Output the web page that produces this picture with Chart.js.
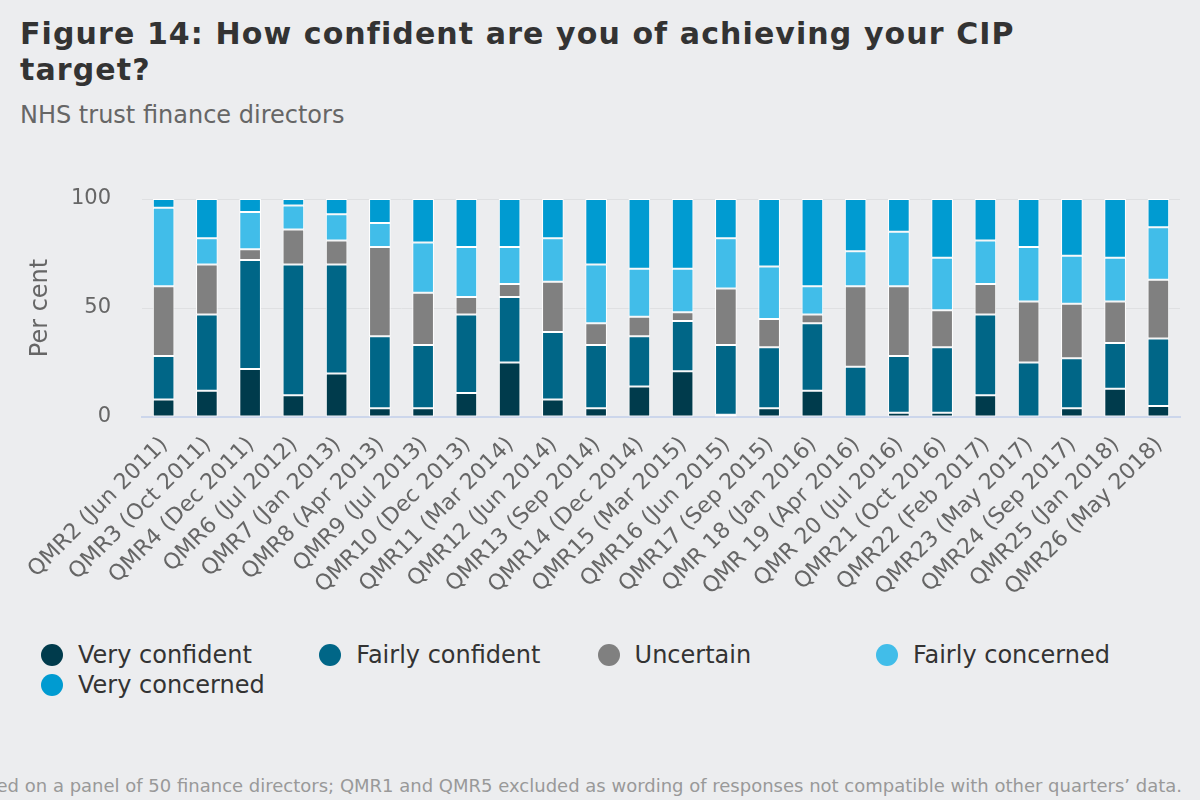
<!DOCTYPE html>
<html>
<head>
<meta charset="utf-8">
<script src="https://cdn.jsdelivr.net/npm/chart.js@4.4.1/dist/chart.umd.min.js"></script>
<style>
html,body{margin:0;padding:0;background:#ecedef;width:1200px;height:800px;overflow:hidden;font-family:"DejaVu Sans",Verdana,sans-serif;}
#wrap{position:relative;width:1200px;height:800px;overflow:hidden;}
#title{position:absolute;left:20px;top:16px;width:1080px;font-size:30px;letter-spacing:1.1px;font-weight:bold;color:#333;line-height:36px;margin:0;}
#subtitle{position:absolute;left:20px;top:101px;font-size:24px;color:#666;white-space:nowrap;}
#chart{position:absolute;left:0;top:0;}
.li{position:absolute;font-size:24px;color:#333;white-space:nowrap;line-height:28px;}
.dot{position:absolute;width:22px;height:22px;border-radius:50%;}
#footer{position:absolute;right:18px;top:775px;font-size:18px;color:#999;white-space:nowrap;line-height:21px;}
</style>
</head>
<body>
<div id="wrap">
  <h1 id="title">Figure 14: How confident are you of achieving your CIP target?</h1>
  <div id="subtitle">NHS trust finance directors</div>
  <canvas id="chart" width="1200" height="620" style="width:1200px;height:620px;"></canvas>
  <div id="legend"></div>
  <div id="footer">Note: Based on a panel of 50 finance directors; QMR1 and QMR5 excluded as wording of responses not compatible with other quarters’ data.</div>
</div>
<script>
const categories = [
  "QMR2 (Jun 2011)", "QMR3 (Oct 2011)", "QMR4 (Dec 2011)", "QMR6 (Jul 2012)",
  "QMR7 (Jan 2013)", "QMR8 (Apr 2013)", "QMR9 (Jul 2013)", "QMR10 (Dec 2013)",
  "QMR11 (Mar 2014)", "QMR12 (Jun 2014)", "QMR13 (Sep 2014)", "QMR14 (Dec 2014)",
  "QMR15 (Mar 2015)", "QMR16 (Jun 2015)", "QMR17 (Sep 2015)", "QMR 18 (Jan 2016)",
  "QMR 19 (Apr 2016)", "QMR 20 (Jul 2016)", "QMR21 (Oct 2016)", "QMR22 (Feb 2017)",
  "QMR23 (May 2017)", "QMR24 (Sep 2017)", "QMR25 (Jan 2018)", "QMR26 (May 2018)"
];
const veryConfident   = [8, 12, 22, 10, 20, 4, 4, 11, 25, 8, 4, 14, 21, 1, 4, 12, 0, 2, 2, 10, 0, 4, 13, 5];
const fairlyConfident = [20, 35, 50, 60, 50, 33, 29, 36, 30, 31, 29, 23, 23, 32, 28, 31, 23, 26, 30, 37, 25, 23, 21, 31];
const uncertain       = [32, 23, 5, 16, 11, 41, 24, 8, 6, 23, 10, 9, 4, 26, 13, 4, 37, 32, 17, 14, 28, 25, 19, 27];
const fairlyConcerned = [36, 12, 17, 11, 12, 11, 23, 23, 17, 20, 27, 22, 20, 23, 24, 13, 16, 25, 24, 20, 25, 22, 20, 24];
const veryConcerned   = [4, 18, 6, 3, 7, 11, 20, 22, 22, 18, 30, 32, 32, 18, 31, 40, 24, 15, 27, 19, 22, 26, 27, 13];
const seriesNames  = ["Very confident", "Fairly confident", "Uncertain", "Fairly concerned", "Very concerned"];
const seriesColors = ["#003b4c", "#006687", "#808080", "#41bde9", "#009bd1"];
const yTickValues  = [0, 50, 100];
const yAxisTitle   = "Per cent";

const seriesData = [veryConfident, fairlyConfident, uncertain, fairlyConcerned, veryConcerned];

Chart.defaults.font.family = '"DejaVu Sans", Verdana, sans-serif';

new Chart(document.getElementById('chart'), {
  type: 'bar',
  data: {
    labels: categories,
    datasets: seriesData.map((d, i) => ({
      label: seriesNames[i],
      data: d,
      backgroundColor: seriesColors[i],
      borderColor: '#ffffff',
      borderWidth: 1,
      borderSkipped: false,
      barPercentage: 0.625,
      categoryPercentage: 0.8
    }))
  },
  options: {
    responsive: false,
    animation: false,
    devicePixelRatio: 1,
    layout: { padding: { left: 24, top: 199, right: 20, bottom: 0 } },
    plugins: { legend: { display: false }, tooltip: { enabled: false } },
    scales: {
      x: {
        stacked: true,
        grid: { display: false, drawTicks: false },
        border: { display: true, color: '#ccd6eb', width: 2 },
        ticks: {
          autoSkip: false, minRotation: 45, maxRotation: 45,
          color: '#666666', font: { size: 22 }, padding: 15, labelOffset: 1
        },
        afterFit(s) { s.height = 203; }
      },
      y: {
        stacked: true, min: 0, max: 100,
        afterBuildTicks(s) { s.ticks = yTickValues.map(v => ({ value: v })); },
        grid: { color: '#dfe0e2', drawTicks: false },
        border: { display: false },
        ticks: { color: '#666666', font: { size: 21 }, padding: 31 },
        title: { display: true, text: yAxisTitle, color: '#666666', font: { size: 24 }, padding: { top: 2, bottom: 4 } },
        afterFit(s) { s.width = 142 - 24; }
      }
    }
  }
});

// HTML legend built from the series names/colours
const legend = document.getElementById('legend');
seriesNames.forEach((name, i) => {
  const col = i % 4, row = Math.floor(i / 4);
  const cx = 52 + col * 278.3, cy = 655 + row * 30;
  const dot = document.createElement('div');
  dot.className = 'dot';
  dot.style.left = (cx - 11) + 'px';
  dot.style.top = (cy - 11) + 'px';
  dot.style.background = seriesColors[i];
  const lab = document.createElement('div');
  lab.className = 'li';
  lab.style.left = (cx + 26) + 'px';
  lab.style.top = (cy - 14) + 'px';
  lab.textContent = name;
  legend.appendChild(dot);
  legend.appendChild(lab);
});
</script>
</body>
</html>
